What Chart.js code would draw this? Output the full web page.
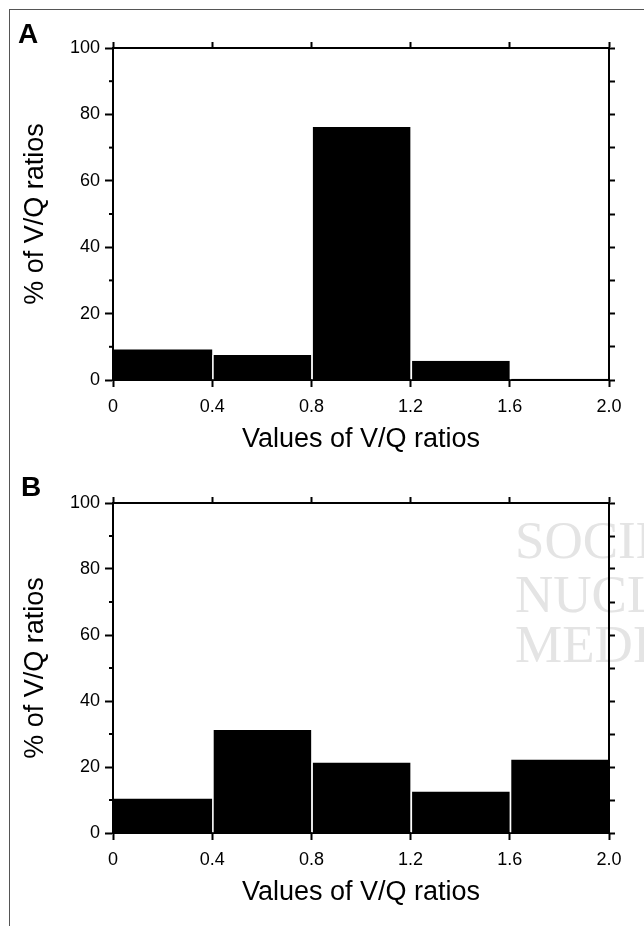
<!DOCTYPE html>
<html>
<head>
<meta charset="utf-8">
<script src="https://cdn.jsdelivr.net/npm/chart.js@4.4.1/dist/chart.umd.min.js"></script>
<style>
html,body{margin:0;padding:0;background:#fff;}
body{width:644px;height:926px;position:relative;overflow:hidden;font-family:"Liberation Sans",Arial,sans-serif;}
#frame{position:absolute;left:9px;top:9px;width:700px;height:1000px;border-left:1px solid #555;border-top:1px solid #555;}
.panel{position:absolute;left:0;width:644px;}
.lbl{position:absolute;font:bold 28px/28px "Liberation Sans",Arial,sans-serif;color:#000;}
</style>
</head>
<body>
<div id="frame"></div>
<div class="panel" style="top:0;height:463px"><canvas id="cA"></canvas></div>
<div class="panel" style="top:463px;height:453px"><canvas id="cB"></canvas></div>
<div class="lbl" style="left:18px;top:20px">A</div>
<div class="lbl" style="left:21px;top:473px">B</div>
<script>
// ---- data ----
const binCenters = [0.2, 0.6, 1.0, 1.4, 1.8];
const xTickLabels = ['0', '0.4', '0.8', '1.2', '1.6', '2.0'];
const yTickLabels = ['0', '20', '40', '60', '80', '100'];
const yMinorTicks = [10, 30, 50, 70, 90];
const valuesA = [9.2, 7.5, 76.2, 5.8, 0.4];
const valuesB = [10.4, 31.2, 21.4, 12.6, 22.3];
const xTitle = 'Values of V/Q ratios';
const yTitle = '% of V/Q ratios';
const watermarkLines = ['SOCIETY OF', 'NUCLEAR', 'MEDICINE'];

const FAMILY = '"Liberation Sans", Arial, sans-serif';

const minorTickPlugin = {
  id: 'minorTicks',
  afterDraw(chart) {
    const s = chart.scales.y;
    const ctx = chart.ctx;
    ctx.save();
    ctx.strokeStyle = '#000';
    ctx.lineWidth = 2;
    yMinorTicks.forEach(v => {
      const y = s.getPixelForValue(v);
      ctx.beginPath();
      ctx.moveTo(s.right - 4, y);
      ctx.lineTo(s.right, y);
      ctx.stroke();
    });
    ctx.restore();
  }
};

const watermarkPlugin = {
  id: 'watermark',
  beforeDraw(chart, args, opts) {
    if (!opts || !opts.show) return;
    const ctx = chart.ctx;
    ctx.save();
    ctx.fillStyle = '#e4e4e4';
    ctx.font = '53px "Liberation Serif", "DejaVu Serif", serif';
    ctx.textBaseline = 'alphabetic';
    const baselines = [95, 149, 199];
    watermarkLines.forEach((t, i) => ctx.fillText(t, 515, baselines[i]));
    ctx.restore();
  }
};

function makeChart(id, values, H, top, bottom, showWatermark) {
  const L = 113, R = 609, W = 644;
  const border = { display: true, color: '#000', width: 2 };
  return new Chart(document.getElementById(id), {
    type: 'bar',
    data: {
      datasets: [{
        data: binCenters.map((x, i) => ({ x: x, y: values[i] })),
        backgroundColor: '#000',
        borderColor: '#fff',
        borderWidth: c => c.dataIndex === 0 ? 0 : { left: 1.5, right: 0, top: 0, bottom: 0 },
        barPercentage: 1,
        categoryPercentage: 1,
        inflateAmount: 0
      }]
    },
    plugins: [minorTickPlugin, watermarkPlugin],
    options: {
      responsive: true,
      maintainAspectRatio: false,
      animation: false,
      layout: { padding: 0 },
      plugins: {
        legend: { display: false },
        tooltip: { enabled: false },
        watermark: { show: showWatermark }
      },
      scales: {
        x: {
          type: 'linear', position: 'bottom', min: 0, max: 2, offset: false,
          afterBuildTicks: s => { s.ticks = xTickLabels.map(t => ({ value: parseFloat(t) })); },
          ticks: { callback: (v, i) => xTickLabels[i], font: { size: 18, family: FAMILY }, color: '#000', padding: 9, maxRotation: 0, autoSkip: false },
          grid: { drawOnChartArea: false, offset: false, tickLength: 7, tickWidth: 2, tickColor: '#000' },
          border: border,
          title: { display: true, text: xTitle, font: { size: 27, family: FAMILY }, color: '#000', padding: { top: 0, bottom: 7 } },
          afterFit: s => { s.height = H - bottom; }
        },
        x2: {
          type: 'linear', position: 'top', min: 0, max: 2, offset: false,
          afterBuildTicks: s => { s.ticks = xTickLabels.map(t => ({ value: parseFloat(t) })); },
          ticks: { display: false },
          grid: { drawOnChartArea: false, offset: false, tickLength: 6, tickWidth: 2, tickColor: '#000' },
          border: border,
          afterFit: s => { s.height = top; }
        },
        y: {
          type: 'linear', position: 'left', min: 0, max: 100,
          afterBuildTicks: s => { s.ticks = yTickLabels.map(t => ({ value: parseFloat(t) })); },
          ticks: { callback: (v, i) => yTickLabels[i], font: { size: 18, family: FAMILY }, color: '#000', padding: 5 },
          grid: { drawOnChartArea: false, tickLength: 8, tickWidth: 2, tickColor: '#000' },
          border: border,
          title: { display: true, text: yTitle, font: { size: 27, family: FAMILY }, color: '#000', padding: { top: 19, bottom: 0 } },
          afterFit: s => { s.width = L; }
        },
        y2: {
          type: 'linear', position: 'right', min: 0, max: 100, z: -1,
          ticks: { display: false, stepSize: 10 },
          grid: { drawOnChartArea: false, tickLength: 6, tickWidth: 2, tickColor: '#000' },
          border: border,
          afterFit: s => { s.width = W - R; }
        }
      }
    }
  });
}

makeChart('cA', valuesA, 463, 48, 380, false);
makeChart('cB', valuesB, 453, 40, 370, true);
</script>
</body>
</html>
